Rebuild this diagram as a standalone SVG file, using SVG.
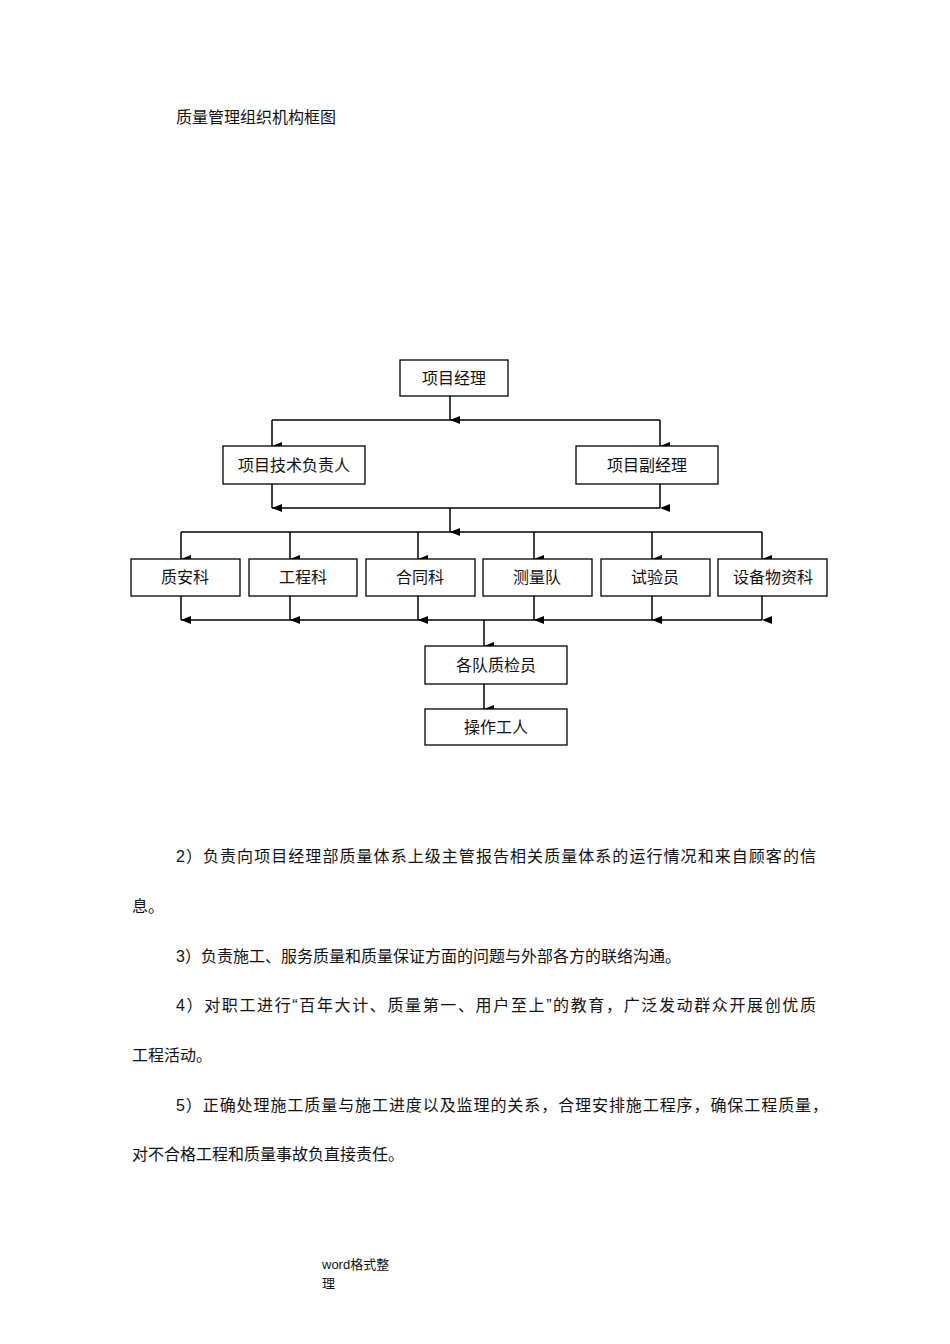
<svg xmlns="http://www.w3.org/2000/svg" width="950" height="1344" viewBox="0 0 950 1344">
<defs>
<marker id="ah" markerWidth="8" markerHeight="10" refX="4" refY="10" orient="auto-start-reverse" markerUnits="userSpaceOnUse" viewBox="0 0 8 10"><path d="M0,0 L8,0 L4,10 Z" fill="#000"/></marker>
<style>
.b{fill:#fff;stroke:#000;stroke-width:1.3}
.t{font-family:"Liberation Serif","Noto Sans CJK SC",serif;font-size:16px;text-anchor:middle;fill:#111}
.p{font-family:"Liberation Sans","Noto Sans CJK SC",sans-serif;font-size:16px;fill:#111}
.c line{stroke:#000;stroke-width:1.5}
.a{marker-end:url(#ah)}
</style>
</defs>
<rect width="950" height="1344" fill="#fff"/>
<text class="p" x="176" y="123">质量管理组织机构框图</text>
<g class="c">
<line class="a" x1="450" y1="396" x2="450" y2="420"/>
<line x1="272" y1="420" x2="660" y2="420"/>
<line class="a" x1="272" y1="420" x2="272" y2="446"/>
<line class="a" x1="660" y1="420" x2="660" y2="446"/>
<line class="a" x1="272" y1="484" x2="272" y2="508"/>
<line class="a" x1="660" y1="484" x2="660" y2="508"/>
<line x1="272" y1="508" x2="660" y2="508"/>
<line class="a" x1="450" y1="508" x2="450" y2="532"/>
<line x1="181" y1="532" x2="762" y2="532"/>
<line class="a" x1="181" y1="532" x2="181" y2="559"/>
<line class="a" x1="290" y1="532" x2="290" y2="559"/>
<line class="a" x1="418" y1="532" x2="418" y2="559"/>
<line class="a" x1="534" y1="532" x2="534" y2="559"/>
<line class="a" x1="652" y1="532" x2="652" y2="559"/>
<line class="a" x1="762" y1="532" x2="762" y2="559"/>
<line class="a" x1="181" y1="596" x2="181" y2="620"/>
<line class="a" x1="290" y1="596" x2="290" y2="620"/>
<line class="a" x1="418" y1="596" x2="418" y2="620"/>
<line class="a" x1="534" y1="596" x2="534" y2="620"/>
<line class="a" x1="652" y1="596" x2="652" y2="620"/>
<line class="a" x1="762" y1="596" x2="762" y2="620"/>
<line x1="181" y1="620" x2="762" y2="620"/>
<line class="a" x1="484" y1="620" x2="484" y2="646"/>
<line class="a" x1="484" y1="684" x2="484" y2="709"/>
</g>
<g id="n1"><rect class="b" x="400" y="360" width="108" height="36"/><text class="t" x="454" y="384">项目经理</text></g>
<g id="n2"><rect class="b" x="223" y="446" width="142" height="38"/><text class="t" x="294" y="471">项目技术负责人</text></g>
<g id="n3"><rect class="b" x="576" y="446" width="142" height="38"/><text class="t" x="647" y="471">项目副经理</text></g>
<g id="n4"><rect class="b" x="131" y="559" width="109" height="37"/><text class="t" x="185" y="583">质安科</text></g>
<g id="n5"><rect class="b" x="249" y="559" width="108" height="37"/><text class="t" x="303" y="583">工程科</text></g>
<g id="n6"><rect class="b" x="366" y="559" width="109" height="37"/><text class="t" x="420" y="583">合同科</text></g>
<g id="n7"><rect class="b" x="483" y="559" width="109" height="37"/><text class="t" x="537" y="583">测量队</text></g>
<g id="n8"><rect class="b" x="601" y="559" width="109" height="37"/><text class="t" x="655" y="583">试验员</text></g>
<g id="n9"><rect class="b" x="718" y="559" width="109" height="37"/><text class="t" x="773" y="583">设备物资科</text></g>
<g id="n10"><rect class="b" x="425" y="646" width="142" height="38"/><text class="t" x="496" y="671">各队质检员</text></g>
<g id="n11"><rect class="b" x="425" y="709" width="142" height="36"/><text class="t" x="496" y="733">操作工人</text></g>
<text class="p" x="176" y="862" textLength="640" lengthAdjust="spacing">2）负责向项目经理部质量体系上级主管报告相关质量体系的运行情况和来自顾客的信</text>
<text class="p" x="132" y="912">息。</text>
<text class="p" x="176" y="962">3）负责施工、服务质量和质量保证方面的问题与外部各方的联络沟通。</text>
<text class="p" x="176" y="1011" textLength="640" lengthAdjust="spacing">4）对职工进行“百年大计、质量第一、用户至上”的教育，广泛发动群众开展创优质</text>
<text class="p" x="132" y="1061">工程活动。</text>
<text class="p" x="176" y="1111" textLength="652" lengthAdjust="spacing">5）正确处理施工质量与施工进度以及监理的关系，合理安排施工程序，确保工程质量，</text>
<text class="p" x="132" y="1160">对不合格工程和质量事故负直接责任。</text>
<text class="p" x="322" y="1269" style="font-size:13px">word格式整</text>
<text class="p" x="322" y="1288" style="font-size:13px">理</text>
</svg>
